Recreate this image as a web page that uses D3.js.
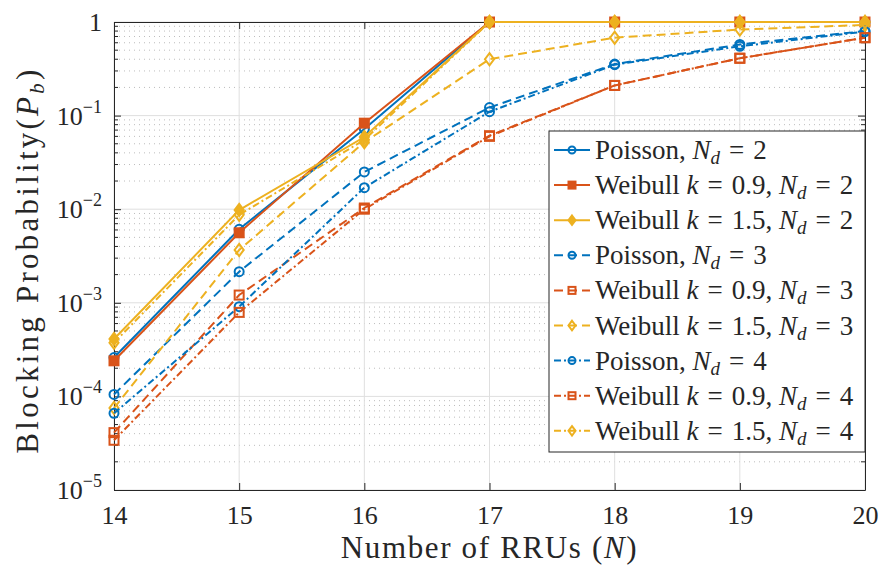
<!DOCTYPE html>
<html>
<head>
<meta charset="utf-8">
<script src="https://cdn.jsdelivr.net/npm/d3@7"></script>
<style>
  html, body { margin: 0; padding: 0; background: #ffffff; }
  svg { display: block; }
  text { font-family: "Liberation Serif", "DejaVu Serif", serif; fill: #262626; }
</style>
</head>
<body>
<svg id="chart" width="883" height="570"></svg>
<script>
// Number of RRUs on the x axis
const rruCounts = [14, 15, 16, 17, 18, 19, 20];

// Blocking probability for each traffic model and N_d
const poissonNd2  = [2.6e-4, 6.1e-3, 0.072, 1, 1, 1, 1];
const weibull09Nd2 = [2.4e-4, 5.6e-3, 0.083, 1, 1, 1, 1];
const weibull15Nd2 = [4.1e-4, 9.8e-3, 0.059, 1, 1, 1, 1];
const poissonNd3  = [1.05e-4, 2.15e-3, 0.025, 0.122, 0.355, 0.575, 0.80];
const weibull09Nd3 = [4.1e-5, 1.21e-3, 0.0103, 0.061, 0.21, 0.41, 0.68];
const weibull15Nd3 = [7.5e-5, 3.67e-3, 0.052, 0.40, 0.68, 0.83, 0.93];
const poissonNd4  = [6.6e-5, 9.1e-4, 0.017, 0.11, 0.35, 0.55, 0.79];
const weibull09Nd4 = [3.4e-5, 7.9e-4, 0.0100, 0.060, 0.21, 0.41, 0.68];
const weibull15Nd4 = [3.75e-4, 8.7e-3, 0.055, 1, 1, 1, 1];

// Tick values
const xTicks = [14, 15, 16, 17, 18, 19, 20];
const yDecades = [-5, -4, -3, -2, -1, 0];

const blue = "#0072BD", orange = "#D95319", yellow = "#EDB120";
const dashNd3 = "9,5";
const dashNd4 = "7,3,2,3";

const series = [
  { values: poissonNd2,  color: blue,   marker: "circle",  filled: false, dash: null,    model: "Poisson", k: null,  nd: 2 },
  { values: weibull09Nd2, color: orange, marker: "square",  filled: true,  dash: null,    model: "Weibull", k: "0.9", nd: 2 },
  { values: weibull15Nd2, color: yellow, marker: "diamond", filled: true,  dash: null,    model: "Weibull", k: "1.5", nd: 2 },
  { values: poissonNd3,  color: blue,   marker: "circle",  filled: false, dash: dashNd3, model: "Poisson", k: null,  nd: 3 },
  { values: weibull09Nd3, color: orange, marker: "square",  filled: false, dash: dashNd3, model: "Weibull", k: "0.9", nd: 3 },
  { values: weibull15Nd3, color: yellow, marker: "diamond", filled: false, dash: dashNd3, model: "Weibull", k: "1.5", nd: 3 },
  { values: poissonNd4,  color: blue,   marker: "circle",  filled: false, dash: dashNd4, model: "Poisson", k: null,  nd: 4 },
  { values: weibull09Nd4, color: orange, marker: "square",  filled: false, dash: dashNd4, model: "Weibull", k: "0.9", nd: 4 },
  { values: weibull15Nd4, color: yellow, marker: "diamond", filled: false, dash: dashNd4, model: "Weibull", k: "1.5", nd: 4 }
];

const svg = d3.select("#chart");
const W = 883, H = 570;
const margin = { left: 114, right: 18, top: 22, bottom: 80 };
const x0 = margin.left, x1 = W - margin.right;
const y0 = H - margin.bottom, y1 = margin.top;

const x = d3.scaleLinear().domain([14, 20]).range([x0, x1]);
const y = d3.scaleLog().domain([1e-5, 1]).range([y0, y1]);

const axisColor = "#262626";

// Stretch a text's letter spacing so it spans a given width
function fitWidth(t, target) {
  const node = t.node();
  const w = node.getComputedTextLength();
  const n = node.textContent.length;
  if (n > 1) t.attr("letter-spacing", (target - w) / (n - 1));
}

// Grid: minor dotted lines, then major solid lines
const gGrid = svg.append("g");
const minorVals = [];
for (let e = -5; e < 0; e++) for (let m = 2; m <= 9; m++) minorVals.push(m * Math.pow(10, e));
gGrid.selectAll("line.minor").data(minorVals).join("line")
  .attr("x1", x0).attr("x2", x1)
  .attr("y1", d => y(d)).attr("y2", d => y(d))
  .attr("stroke", "#bdbdbd").attr("stroke-width", 1)
  .attr("stroke-dasharray", "1,4");
gGrid.selectAll("line.majy").data(yDecades.map(e => Math.pow(10, e))).join("line")
  .attr("x1", x0).attr("x2", x1)
  .attr("y1", d => y(d)).attr("y2", d => y(d))
  .attr("stroke", "#dfdfdf").attr("stroke-width", 1);
gGrid.selectAll("line.majx").data(xTicks).join("line")
  .attr("x1", d => x(d)).attr("x2", d => x(d))
  .attr("y1", y0).attr("y2", y1)
  .attr("stroke", "#dfdfdf").attr("stroke-width", 1);

// Axes with inward ticks
const fs = 26;
const xAxisB = d3.axisBottom(x).tickValues(xTicks).tickFormat(d3.format("d"))
  .tickSizeInner(-7).tickSizeOuter(0).tickPadding(16);
const gxb = svg.append("g").attr("transform", `translate(0,${y0})`).call(xAxisB);
gxb.selectAll("text").attr("font-size", fs).attr("fill", axisColor)
  .style("font-family", '"Liberation Serif", serif');
gxb.select(".domain").attr("stroke", axisColor);
gxb.selectAll(".tick line").attr("stroke", axisColor);

const xAxisT = d3.axisTop(x).tickValues(xTicks).tickSizeInner(-7).tickSizeOuter(0).tickFormat("");
const gxt = svg.append("g").attr("transform", `translate(0,${y1})`).call(xAxisT);
gxt.select(".domain").attr("stroke", axisColor);
gxt.selectAll(".tick line").attr("stroke", axisColor);

const yAxisL = d3.axisLeft(y).tickValues(yDecades.map(e => Math.pow(10, e))).tickSizeInner(-7).tickSizeOuter(0).tickFormat("");
const gyl = svg.append("g").attr("transform", `translate(${x0},0)`).call(yAxisL);
gyl.select(".domain").attr("stroke", axisColor);
gyl.selectAll(".tick line").attr("stroke", axisColor);

const yAxisR = d3.axisRight(y).tickValues(yDecades.map(e => Math.pow(10, e))).tickSizeInner(-7).tickSizeOuter(0).tickFormat("");
const gyr = svg.append("g").attr("transform", `translate(${x1},0)`).call(yAxisR);
gyr.select(".domain").attr("stroke", axisColor);
gyr.selectAll(".tick line").attr("stroke", axisColor);

// Minor y ticks on both sides
const gMinor = svg.append("g").attr("stroke", axisColor).attr("stroke-width", 1);
gMinor.selectAll("line.l").data(minorVals).join("line")
  .attr("x1", x0).attr("x2", x0 + 4).attr("y1", d => y(d)).attr("y2", d => y(d));
gMinor.selectAll("line.r").data(minorVals).join("line")
  .attr("x1", x1).attr("x2", x1 - 4).attr("y1", d => y(d)).attr("y2", d => y(d));

// Y tick labels as powers of ten
const gyLab = svg.append("g");
yDecades.forEach(e => {
  const t = gyLab.append("text")
    .attr("x", x0 - 12).attr("y", y(Math.pow(10, e)) + 9)
    .attr("text-anchor", "end").attr("font-size", fs);
  if (e === 0) {
    t.text("1");
  } else {
    t.append("tspan").text("10");
    t.append("tspan").attr("dy", -12).attr("font-size", 18).text("\u2212" + Math.abs(e));
  }
});

// Series lines and markers
const line = d3.line().x((d, i) => x(rruCounts[i])).y(d => y(d));
const gSeries = svg.append("g");

function drawMarker(g, type, cx, cy, color, filled, size) {
  const fill = filled ? color : "none";
  if (type === "circle") {
    g.append("circle").attr("cx", cx).attr("cy", cy).attr("r", size)
      .attr("fill", fill).attr("stroke", color).attr("stroke-width", 2);
  } else if (type === "square") {
    g.append("rect").attr("x", cx - size).attr("y", cy - size)
      .attr("width", 2 * size).attr("height", 2 * size)
      .attr("fill", fill).attr("stroke", color).attr("stroke-width", 2);
  } else {
    const s = size * 1.35;
    g.append("path").attr("d", `M${cx},${cy - s}L${cx + s * 0.75},${cy}L${cx},${cy + s}L${cx - s * 0.75},${cy}Z`)
      .attr("fill", fill).attr("stroke", color).attr("stroke-width", 2);
  }
}

series.forEach(s => {
  gSeries.append("path").datum(s.values)
    .attr("d", line)
    .attr("fill", "none").attr("stroke", s.color).attr("stroke-width", 2)
    .attr("stroke-dasharray", s.dash);
  const gm = gSeries.append("g");
  s.values.forEach((v, i) => drawMarker(gm, s.marker, x(rruCounts[i]), y(v), s.color, s.filled, 4.5));
});

// Axis labels
const xLabel = svg.append("text")
  .attr("x", (x0 + x1) / 2 + 0).attr("y", 558)
  .attr("text-anchor", "middle").attr("font-size", 31)
  .call(t => {
    t.append("tspan").text("Number of RRUs (");
    t.append("tspan").attr("font-style", "italic").text("N");
    t.append("tspan").text(")");
  });
fitWidth(xLabel, 296);

const yLabel = svg.append("text")
  .attr("transform", `translate(38,${(y0 + y1) / 2 + 4}) rotate(-90)`)
  .attr("text-anchor", "middle").attr("font-size", 31)
  .call(t => {
    t.append("tspan").text("Blocking Probability(");
    t.append("tspan").attr("font-style", "italic").text("P");
    t.append("tspan").attr("font-style", "italic").attr("font-size", 21).attr("dy", 6).text("b");
    t.append("tspan").attr("dy", -6).text(")");
  });
fitWidth(yLabel, 384);

// Legend
const lg = { x: 549, y: 131, w: 316, h: 321, row: 35.1 };
const gLeg = svg.append("g");
gLeg.append("rect").attr("x", lg.x).attr("y", lg.y).attr("width", lg.w).attr("height", lg.h)
  .attr("fill", "#ffffff").attr("stroke", axisColor).attr("stroke-width", 1);
const eq = "\u2004=\u2004";
series.forEach((s, i) => {
  const cy = lg.y + 19 + i * lg.row;
  gLeg.append("line").attr("x1", lg.x + 5).attr("x2", lg.x + 41).attr("y1", cy).attr("y2", cy)
    .attr("stroke", s.color).attr("stroke-width", 2).attr("stroke-dasharray", s.dash);
  drawMarker(gLeg, s.marker, lg.x + 23, cy, s.color, s.filled, 3.5);
  const t = gLeg.append("text").attr("x", lg.x + 46).attr("y", cy + 9).attr("font-size", 27);
  if (s.k === null) {
    t.append("tspan").text(s.model + ", ");
  } else {
    t.append("tspan").text(s.model + " ");
    t.append("tspan").attr("font-style", "italic").text("k");
    t.append("tspan").text(eq + s.k + ", ");
  }
  t.append("tspan").attr("font-style", "italic").text("N");
  t.append("tspan").attr("font-style", "italic").attr("font-size", 19).attr("dy", 5).text("d");
  t.append("tspan").attr("dy", -5).text(eq + s.nd);
});
</script>
</body>
</html>
